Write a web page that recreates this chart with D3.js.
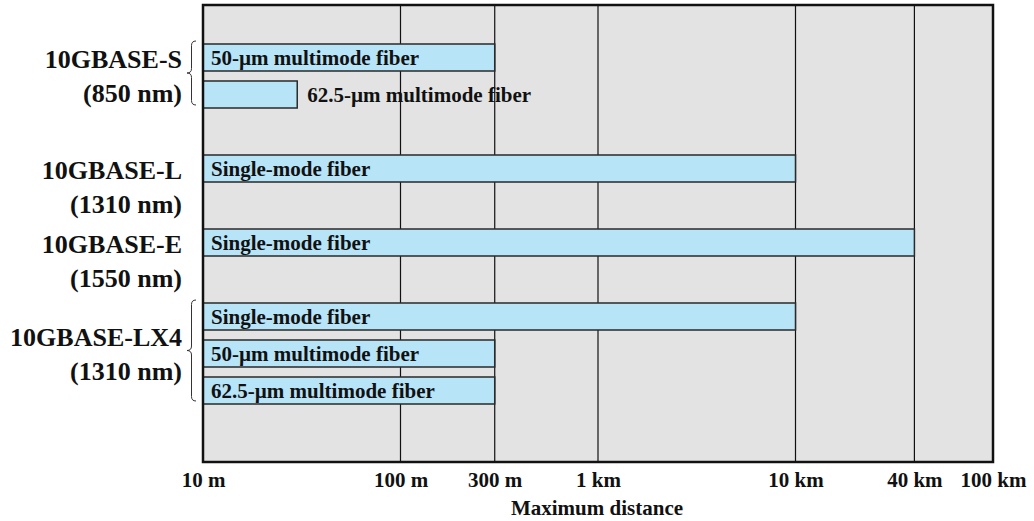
<!DOCTYPE html>
<html>
<head>
<meta charset="utf-8">
<script src="https://cdn.jsdelivr.net/npm/d3@7"></script>
<style>
  html, body { margin: 0; padding: 0; background: #fff; }
  svg { display: block; }
  text { font-family: "Liberation Serif", "Times New Roman", serif; font-weight: bold; fill: #111; }
</style>
</head>
<body>
<svg id="chart" width="1034" height="521"></svg>
<script>
// ---------------- data ----------------
const standards   = ["10GBASE-S", "10GBASE-L", "10GBASE-E", "10GBASE-LX4"];
const wavelengths = ["(850 nm)", "(1310 nm)", "(1550 nm)", "(1310 nm)"];
const fiberLabels = ["50-\u00B5m multimode fiber", "62.5-\u00B5m multimode fiber",
                     "Single-mode fiber", "Single-mode fiber", "Single-mode fiber",
                     "50-\u00B5m multimode fiber", "62.5-\u00B5m multimode fiber"];
const fiberStandard = [0, 0, 1, 2, 3, 3, 3];               // index into standards
const maxDistance   = [300, 30, 10000, 40000, 10000, 300, 300]; // metres
const tickValues = [10, 100, 300, 1000, 10000, 40000, 100000];
const tickLabels = ["10 m", "100 m", "300 m", "1 km", "10 km", "40 km", "100 km"];
const axisTitle = "Maximum distance";

// ---------------- layout ----------------
const svg = d3.select("#chart");
const plot = { left: 203, right: 993, top: 5, bottom: 462 };

const x = d3.scaleLog().domain([10, 100000]).range([plot.left, plot.right]);

// slots: bars of each standard, one empty slot between standards
const slotOf = [];
let slot = 0;
standards.forEach((s, gi) => {
  if (gi > 0) slot += 1;
  fiberStandard.forEach((g, i) => { if (g === gi) { slotOf[i] = slot; slot += 1; } });
});
const nSlots = slot;
const y = d3.scaleBand().domain(d3.range(nSlots)).range([44, 404]).paddingInner(10 / 37).paddingOuter(0);

// background
svg.append("rect")
  .attr("x", plot.left).attr("y", plot.top)
  .attr("width", plot.right - plot.left).attr("height", plot.bottom - plot.top)
  .attr("fill", "#e3e3e3");

// grid lines
svg.append("g").selectAll("line").data(tickValues.slice(1, -1)).join("line")
  .attr("x1", d => x(d)).attr("x2", d => x(d))
  .attr("y1", plot.top).attr("y2", plot.bottom)
  .attr("stroke", "#111").attr("stroke-width", 1.2);

// bars
const bars = fiberLabels.map((lab, i) => ({ lab, i, v: maxDistance[i], s: slotOf[i] }));
svg.append("g").selectAll("rect").data(bars).join("rect")
  .attr("x", plot.left).attr("y", d => y(d.s))
  .attr("width", d => x(d.v) - plot.left).attr("height", y.bandwidth())
  .attr("fill", "#b8e4f8").attr("stroke", "#2a2a2a").attr("stroke-width", 1.5);

// bar labels
svg.append("g").selectAll("text").data(bars).join("text")
  .attr("x", d => {
    const w = x(d.v) - plot.left;
    return w < 150 ? x(d.v) + 10 : plot.left + 8;
  })
  .attr("y", d => y(d.s) + y.bandwidth() / 2 + 7)
  .attr("font-size", 21)
  .text(d => d.lab);

// frame
svg.append("rect")
  .attr("x", plot.left).attr("y", plot.top)
  .attr("width", plot.right - plot.left).attr("height", plot.bottom - plot.top)
  .attr("fill", "none").attr("stroke", "#111").attr("stroke-width", 2.5);

// x axis
const axis = d3.axisBottom(x).tickValues(tickValues).tickFormat((d, i) => tickLabels[i]).tickSize(0).tickPadding(0);
const ag = svg.append("g").attr("transform", `translate(0,${plot.bottom})`).call(axis);
ag.select(".domain").remove();
ag.selectAll("text").attr("dy", 0).attr("y", 25)
  .attr("font-size", 21).attr("font-family", "Liberation Serif").attr("font-weight", "bold").attr("fill", "#111");

svg.append("text").attr("x", 597).attr("y", 515)
  .attr("text-anchor", "middle").attr("font-size", 21).text(axisTitle);

// group labels and braces
const bw = y.bandwidth();
standards.forEach((s, gi) => {
  const idx = fiberStandard.map((g, i) => g === gi ? i : -1).filter(i => i >= 0);
  const top = y(slotOf[idx[0]]);
  const bottom = y(slotOf[idx[idx.length - 1]]) + bw;
  let center;
  if (idx.length === 1) center = top + bw / 2 + y.step() / 2;
  else center = (top + bottom) / 2;
  svg.append("text").attr("x", 182).attr("y", center - 17 + 9)
    .attr("text-anchor", "end").attr("font-size", 26).text(s);
  svg.append("text").attr("x", 182).attr("y", center + 17 + 9)
    .attr("text-anchor", "end").attr("font-size", 26).text(wavelengths[gi]);
  if (idx.length > 1) {
    const bx = 187, w = 9, y0 = top - 3, y1 = bottom - 3, mid = (y0 + y1) / 2, h = w / 2;
    const p = `M ${bx + w},${y0} Q ${bx + h},${y0} ${bx + h},${y0 + h} L ${bx + h},${mid - h} Q ${bx + h},${mid} ${bx},${mid} Q ${bx + h},${mid} ${bx + h},${mid + h} L ${bx + h},${y1 - h} Q ${bx + h},${y1} ${bx + w},${y1}`;
    svg.append("path").attr("d", p).attr("fill", "none").attr("stroke", "#333").attr("stroke-width", 1);
  }
});
</script>
</body>
</html>
